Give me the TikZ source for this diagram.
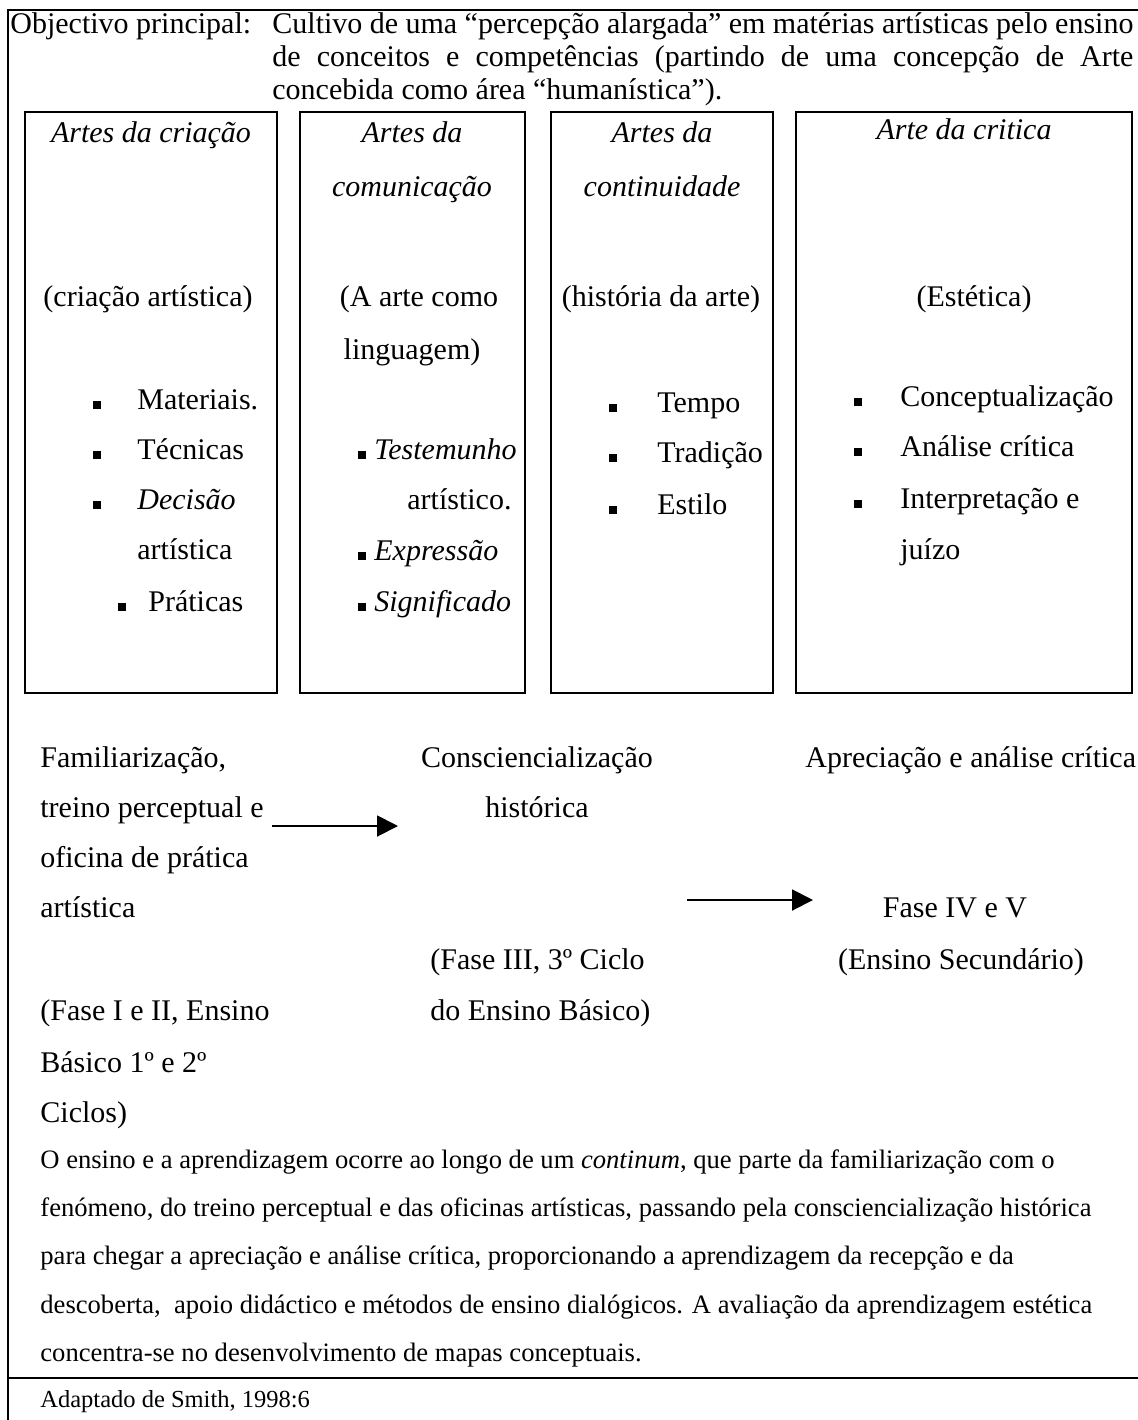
\documentclass[tikz,border=0pt]{standalone}
\usepackage{fontspec}
\setmainfont{Liberation Serif}
\usetikzlibrary{arrows.meta,positioning}
\newcommand{\boxfont}{\fontsize{15}{25}\selectfont}
\tikzset{
  >={Triangle[length=10.5pt,width=10.5pt]},
  frame/.style={draw=black,line width=.7pt},
  area/.style={draw=black,line width=.7pt},
  lab/.style={inner sep=0pt,font=\boxfont,anchor=mid west},
  ctr/.style={lab,anchor=mid},
  hd/.style={ctr,font=\boxfont\itshape},
  goal/.style={inner sep=0pt,font=\fontsize{15}{16.5}\selectfont,anchor=mid west},
  note/.style={inner sep=0pt,font=\fontsize{13.3}{24}\selectfont,anchor=mid west},
  sq/.style={fill=black,inner sep=0pt,minimum size=4.4pt},
  flow/.style={->,line width=1pt}
}
\begin{document}
\begin{tikzpicture}[x=.5pt,y=-.5pt]
  \useasboundingbox (0,0) rectangle (1138,1420);
  % frame
  \draw[frame] (1138,10) -- (8,10) -- (8,1420);
  \draw[frame] (8,1378) -- (1138,1378);

  % objective
  \node[goal] (obj) at (10,29) {Objectivo principal:};
  \node[goal] (obj1) at (272,29) {\makebox[430.5pt][s]{Cultivo de uma “percepção alargada” em matérias artísticas pelo ensino}};
  \node[goal] (obj2) at (272,62) {\makebox[430.5pt][s]{de conceitos e competências (partindo de uma concepção de Arte}};
  \node[goal] (obj3) at (272,95) {concebida como área “humanística”).};

  % the four arts
  \draw[area] (25,112) rectangle (277,693);
  \draw[area] (300,112) rectangle (525,693);
  \draw[area] (551,112) rectangle (773,693);
  \draw[area] (796,112) rectangle (1132,693);

  \node[hd] (t1) at (151,138) {Artes da criação};
  \node[hd] (t2a) at (412,138) {Artes da};
  \node[hd] (t2b) at (412,192) {comunicação};
  \node[hd] (t3a) at (662,138) {Artes da};
  \node[hd] (t3b) at (662,192) {continuidade};
  \node[hd] (t4) at (964,135) {Arte da critica};

  \node[ctr] (s1) at (148,302) {(criação artística)};
  \node[ctr] (s2a) at (419,302) {(A arte como};
  \node[ctr] (s2b) at (412,355) {linguagem)};
  \node[ctr] (s3) at (661,302) {(história da arte)};
  \node[ctr] (s4) at (974,302) {(Estética)};

  \foreach \y in {405,455,505} \node[sq] (b1-\y) at (97,\y) {};
  \node[sq] (b1-607) at (122,607) {};
  \node[lab] (c1a) at (137,405) {Materiais.};
  \node[lab] (c1b) at (137,455) {Técnicas};
  \node[lab] (c1c) at (137,505) {\textit{Decisão}};
  \node[lab] (c1d) at (137,555) {artística};
  \node[lab] (c1e) at (148,607) {Práticas};

  \foreach \y in {455,556,607} \node[sq] (b2-\y) at (362,\y) {};
  \node[lab] (c2a) at (374,455) {\textit{Testemunho}};
  \node[lab] (c2b) at (407,505) {artístico.};
  \node[lab] (c2c) at (374,556) {\textit{Expressão}};
  \node[lab] (c2d) at (374,607) {\textit{Significado}};

  \foreach \y in {408,458,510} \node[sq] (b3-\y) at (613,\y) {};
  \node[lab] (c3a) at (657,408) {Tempo};
  \node[lab] (c3b) at (657,458) {Tradição};
  \node[lab] (c3c) at (657,510) {Estilo};

  \foreach \y in {402,452,504} \node[sq] (b4-\y) at (858,\y) {};
  \node[lab] (c4a) at (900,402) {Conceptualização};
  \node[lab] (c4b) at (900,452) {Análise crítica};
  \node[lab] (c4c) at (900,504) {Interpretação e};
  \node[lab] (c4d) at (900,555) {juízo};

  % phases
  \node[lab] (p1a) at (40,763) {Familiarização,};
  \node[lab] (p1b) at (40,813) {treino perceptual e};
  \node[lab] (p1c) at (40,863) {oficina de prática};
  \node[lab] (p1d) at (40,913) {artística};
  \node[lab] (p1e) at (40,1016) {(Fase I e II, Ensino};
  \node[lab] (p1f) at (40,1068) {Básico 1º e 2º};
  \node[lab] (p1g) at (40,1118) {Ciclos)};

  \node[ctr] (p2a) at (537,763) {Consciencialização};
  \node[ctr] (p2b) at (537,813) {histórica};
  \node[lab] (p2c) at (430,965) {(Fase III, 3º Ciclo};
  \node[lab] (p2d) at (430,1016) {do Ensino Básico)};

  \node[lab] (p3a) at (805,763) {Apreciação e análise crítica};
  \node[ctr] (p3b) at (955,913) {Fase IV e V};
  \node[ctr] (p3c) at (961,965) {(Ensino Secundário)};

  \coordinate (a1s) at (272,826);
  \coordinate (a1e) at (398,826);
  \coordinate (a2s) at (687,900);
  \coordinate (a2e) at (813,900);
  \draw[flow] (a1s) -- (a1e);
  \draw[flow] (a2s) -- (a2e);

  % note
  \node[note] (n1) at (40,1164) {O ensino e a aprendizagem ocorre ao longo de um \textit{continum}, que parte da familiarização com o};
  \node[note] (n2) at (40,1212) {fenómeno, do treino perceptual e das oficinas artísticas, passando pela consciencialização histórica};
  \node[note] (n3) at (40,1260) {para chegar a apreciação e análise crítica, proporcionando a aprendizagem da recepção e da};
  \node[note] (n4) at (40,1309) {descoberta,\ \ apoio didáctico e métodos de ensino dialógicos. A avaliação da aprendizagem estética};
  \node[note] (n5) at (40,1357) {concentra-se no desenvolvimento de mapas conceptuais.};
  \node[note,font=\fontsize{12.25}{14}\selectfont] (src) at (40,1403) {Adaptado de Smith, 1998:6};
\end{tikzpicture}
\end{document}
